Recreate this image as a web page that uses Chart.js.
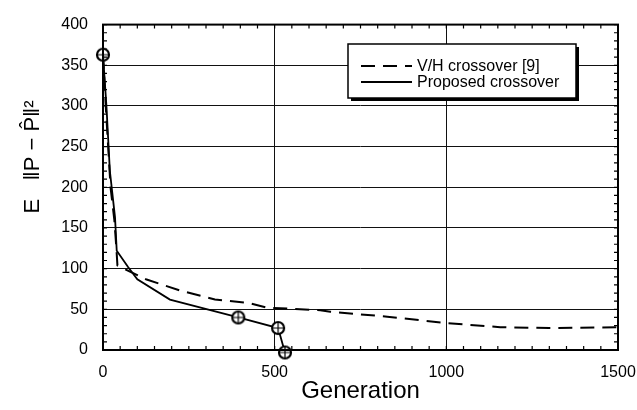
<!DOCTYPE html>
<html>
<head>
<meta charset="utf-8">
<script src="https://cdn.jsdelivr.net/npm/chart.js@4"></script>
<style>
  html, body { margin: 0; padding: 0; background: #fff; }
  #chart-area { display: block; }
</style>
</head>
<body>
<canvas id="chart-area" width="637" height="410"></canvas>
<script>
// data
var propGen = [0, 10, 20, 35, 40, 73, 100, 195, 394, 510, 530];
var propVal = [363, 300, 220, 163, 122, 102, 87, 62, 40, 27, -3];
var propMarked = [0, 8, 9, 10];  // indices that carry a circle marker

var vhGen = [0, 8, 15, 22, 33, 39, 42, 80, 125, 225, 326, 423, 478, 633, 662, 828, 1003, 1157, 1300, 1500];
var vhVal = [363, 300, 250, 200, 160, 125, 104, 96, 87, 73, 62, 58, 52, 49, 47, 41, 33, 28, 27, 28];

var xTicks = [0, 500, 1000, 1500];
var yTicks = [0, 50, 100, 150, 200, 250, 300, 350, 400];

var seriesLabels = ['V/H crossover [9]', 'Proposed crossover'];

var FONT = "'Liberation Sans', Arial, sans-serif";

function toXY(xs, ys) {
  var out = [];
  for (var i = 0; i < xs.length; i++) out.push({x: xs[i], y: ys[i]});
  return out;
}

// circle with a cross inside, used as point style
function makeMarker() {
  var cv = document.createElement('canvas');
  cv.width = 16; cv.height = 16;
  var g = cv.getContext('2d');
  g.fillStyle = '#fff';
  g.strokeStyle = '#000';
  g.lineWidth = 2.2;
  g.beginPath(); g.arc(8, 8, 6, 0, Math.PI * 2); g.fill(); g.stroke();
  g.lineWidth = 1.2;
  g.beginPath(); g.moveTo(8, 3); g.lineTo(8, 13); g.moveTo(3, 8); g.lineTo(13, 8); g.stroke();
  return cv;
}
var marker = makeMarker();

// frame, inward minor ticks, y title, legend box
var decor = {
  id: 'decor',
  afterDraw: function(chart) {
    var c = chart.ctx, a = chart.chartArea;
    var xs = chart.scales.x, ys = chart.scales.y;
    c.save();
    c.strokeStyle = '#000';
    c.lineWidth = 1.2;
    c.beginPath();
    for (var g = 0; g <= 1500; g += 50) {
      var px = xs.getPixelForValue(g);
      c.moveTo(px, a.bottom); c.lineTo(px, a.bottom - 4);
      c.moveTo(px, a.top); c.lineTo(px, a.top + 4);
    }
    for (var v = 0; v <= 400; v += 10) {
      var py = ys.getPixelForValue(v);
      c.moveTo(a.left, py); c.lineTo(a.left + 4, py);
      c.moveTo(a.right, py); c.lineTo(a.right - 4, py);
    }
    c.stroke();

    c.lineWidth = 2;
    c.strokeRect(a.left, a.top, a.right - a.left, a.bottom - a.top);

    // y axis title
    c.fillStyle = '#000';
    c.translate(33, 157);
    c.rotate(-Math.PI / 2);
    c.textAlign = 'center';
    c.textBaseline = 'middle';
    c.font = '22px ' + FONT;
    c.fillText('E   \u2016P \u2212 P\u0302\u2016\u00b2', 0, 0);
    c.restore();

    // legend
    var bx = 348, by = 44, bw = 228, bh = 54;
    c.save();
    c.fillStyle = '#000';
    c.fillRect(bx + 3, by + 3, bw, bh);
    c.fillStyle = '#fff';
    c.fillRect(bx, by, bw, bh);
    c.strokeStyle = '#000';
    c.lineWidth = 1.5;
    c.strokeRect(bx, by, bw, bh);
    c.font = '16px ' + FONT;
    c.fillStyle = '#000';
    c.textBaseline = 'middle';
    var rows = [66, 82];
    chart.data.datasets.forEach(function(ds, i) {
      if (!ds.label) return;
      c.beginPath();
      c.lineWidth = 1.8;
      c.setLineDash(ds.borderDash || []);
      c.moveTo(361, rows[i]); c.lineTo(412, rows[i]);
      c.stroke();
      c.setLineDash([]);
      c.fillText(ds.label, 417, rows[i] + 1);
    });
    c.restore();
  }
};

var ctx = document.getElementById('chart-area');
var myChart = new Chart(ctx, {
  type: 'scatter',
  data: {
    datasets: [
      {
        label: seriesLabels[0],
        data: toXY(vhGen, vhVal),
        showLine: true,
        borderColor: '#000',
        borderWidth: 2,
        borderDash: [14, 8],
        pointRadius: 0,
        tension: 0,
        clip: false
      },
      {
        label: seriesLabels[1],
        data: toXY(propGen, propVal),
        showLine: true,
        borderColor: '#000',
        borderWidth: 1.8,
        pointStyle: marker,
        pointRadius: function(ctx) { return propMarked.indexOf(ctx.dataIndex) >= 0 ? 7 : 0; },
        tension: 0,
        clip: false
      }
    ]
  },
  options: {
    responsive: false,
    animation: false,
    layout: { padding: { top: 23, right: 19, left: 0, bottom: 0 } },
    plugins: { legend: { display: false }, tooltip: { enabled: false } },
    scales: {
      x: {
        type: 'linear',
        min: 0, max: 1500,
        afterBuildTicks: function(s) { s.ticks = xTicks.map(function(v) { return {value: v}; }); },
        afterFit: function(s) { s.height = 60; s.paddingLeft = 0; s.paddingRight = 0; },
        grid: { color: '#111', lineWidth: 1, drawTicks: false },
        border: { display: false },
        ticks: { color: '#000', font: { family: FONT, size: 16 }, padding: 13, maxRotation: 0,
                 callback: function(v) { return String(v); } },
        title: { display: true, text: 'Generation', color: '#000', font: { family: FONT, size: 24 }, padding: { top: 0, bottom: 4 } }
      },
      y: {
        type: 'linear',
        min: 0, max: 400,
        afterBuildTicks: function(s) { s.ticks = yTicks.map(function(v) { return {value: v}; }); },
        afterFit: function(s) { s.width = 103; },
        grid: { color: '#111', lineWidth: 1, drawTicks: false },
        border: { display: false },
        ticks: { color: '#000', font: { family: FONT, size: 16 }, padding: 15,
                 callback: function(v) { return String(v); } }
      }
    }
  },
  plugins: [decor]
});
</script>
</body>
</html>
